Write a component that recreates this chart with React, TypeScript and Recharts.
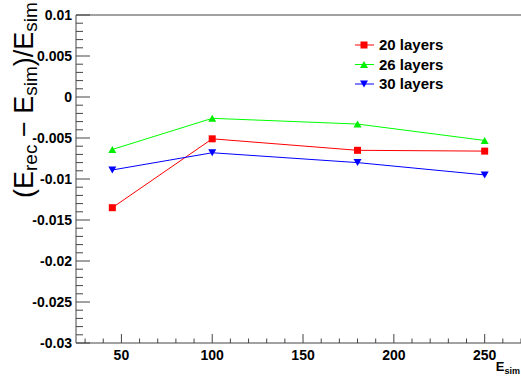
import { LineChart, Line, XAxis, YAxis, ReferenceLine } from "recharts";

const energies = [45, 100, 180, 250];
const layers20 = [-0.0135, -0.0051, -0.0065, -0.0066];
const layers26 = [-0.0064, -0.0026, -0.0033, -0.0053];
const layers30 = [-0.0089, -0.0068, -0.008, -0.0095];

const xMajor = [50, 100, 150, 200, 250];
const yMajor = [0.01, 0.005, 0, -0.005, -0.01, -0.015, -0.02, -0.025, -0.03];

const data = energies.map((e, i) => ({
  e,
  l20: layers20[i],
  l26: layers26[i],
  l30: layers30[i],
}));

// minor ticks every 10 on x, every 0.001 on y
const xTicks: number[] = [];
for (let v = 30; v <= 270; v += 10) xTicks.push(v);
const yTicks: number[] = [];
for (let i = -30; i <= 10; i++) yTicks.push(Number((i / 1000).toFixed(3)));

const AXIS = "#444";
const FONT = "'Liberation Sans', Arial, sans-serif";

const XTick = (props: any) => {
  const { x, y, payload } = props;
  const v = payload.value;
  const major = xMajor.includes(v);
  return (
    <g>
      <line x1={x} x2={x} y1={y} y2={y - (major ? 9 : 4.5)} stroke={AXIS} />
      {major && (
        <text x={x} y={y + 17} textAnchor="middle" fontFamily={FONT} fontWeight="bold" fontSize={14} fill="#000">
          {v}
        </text>
      )}
    </g>
  );
};

const YTick = (props: any) => {
  const { x, y, payload } = props;
  const v = payload.value;
  const major = yMajor.includes(v);
  return (
    <g>
      <line x1={x} x2={x + (major ? 14 : 7)} y1={y} y2={y} stroke={AXIS} />
      {major && (
        <text x={x - 4} y={y + 5} textAnchor="end" fontFamily={FONT} fontWeight="bold" fontSize={14} fill="#000">
          {String(v)}
        </text>
      )}
    </g>
  );
};

const Square = (props: any) => {
  const { cx, cy, key } = props;
  return <rect key={key} x={cx - 3.5} y={cy - 3.5} width={7} height={7} fill="#ff0000" />;
};
const TriUp = (props: any) => {
  const { cx, cy, key } = props;
  return <path key={key} d={`M${cx - 4},${cy + 3.5}L${cx + 4},${cy + 3.5}L${cx},${cy - 3.5}Z`} fill="#00ee00" />;
};
const TriDown = (props: any) => {
  const { cx, cy, key } = props;
  return <path key={key} d={`M${cx - 4},${cy - 3.5}L${cx + 4},${cy - 3.5}L${cx},${cy + 3.5}Z`} fill="#0000ff" />;
};

const legendRows = [
  { name: "20 layers", color: "#ff0000", Mark: Square },
  { name: "26 layers", color: "#00ff00", Mark: TriUp },
  { name: "30 layers", color: "#0000ff", Mark: TriDown },
];

export default function App() {
  return (
    <div style={{ position: "absolute", left: 0, top: 0, width: 521, height: 379, background: "#fff" }}>
      <LineChart width={521} height={379} data={data} margin={{ top: 15, right: 0, left: 0, bottom: 0 }}>
        <XAxis
          dataKey="e"
          type="number"
          domain={[25, 270]}
          ticks={xTicks}
          interval={0}
          height={36}
          tickSize={0}
          tickMargin={0}
          tickLine={false}
          axisLine={{ stroke: AXIS }}
          tick={<XTick />}
        />
        <YAxis
          type="number"
          domain={[-0.03, 0.01]}
          ticks={yTicks}
          interval={0}
          width={76}
          tickSize={0}
          tickMargin={0}
          tickLine={false}
          axisLine={{ stroke: AXIS }}
          tick={<YTick />}
        />
        <ReferenceLine y={0.01} stroke={AXIS} />
        <Line dataKey="l20" name="20 layers" stroke="#ff0000" strokeWidth={1} dot={Square} isAnimationActive={false} />
        <Line dataKey="l26" name="26 layers" stroke="#00ff00" strokeWidth={1} dot={TriUp} isAnimationActive={false} />
        <Line dataKey="l30" name="30 layers" stroke="#0000ff" strokeWidth={1} dot={TriDown} isAnimationActive={false} />
      </LineChart>
      <svg width={521} height={379} style={{ position: "absolute", left: 0, top: 0, pointerEvents: "none" }}>
        {legendRows.map((r, i) => {
          const cy = 45 + i * 19.5;
          return (
            <g key={r.name}>
              <line x1={355} x2={374} y1={cy} y2={cy} stroke={r.color} />
              <r.Mark cx={364} cy={cy} />
              <text x={379} y={cy + 5} fontFamily={FONT} fontWeight="bold" fontSize={15} fill="#000">
                {r.name}
              </text>
            </g>
          );
        })}
        <text transform="translate(33,198) rotate(-90)" fontFamily={FONT} fontSize={27} fill="#000">
          (E<tspan fontSize={19} dy={4}>rec</tspan>
          <tspan dy={-4}> − E</tspan>
          <tspan fontSize={19} dy={4}>sim</tspan>
          <tspan dy={-4}>)/E</tspan>
          <tspan fontSize={19} dy={4}>sim</tspan>
        </text>
        <text x={520} y={371} textAnchor="end" fontFamily={FONT} fontWeight="bold" fill="#000">
          <tspan fontSize={13}>E</tspan>
          <tspan fontSize={9} dy={3}>sim</tspan>
        </text>
      </svg>
    </div>
  );
}
